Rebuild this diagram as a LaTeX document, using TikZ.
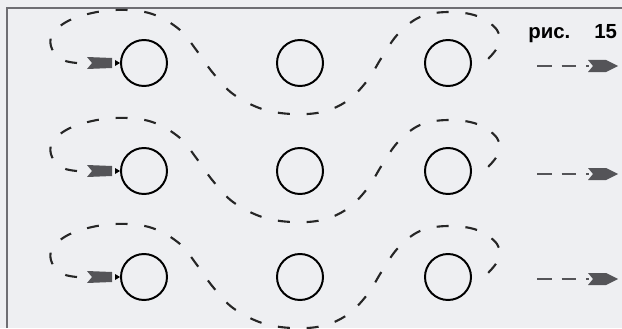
\documentclass[tikz,border=0pt]{standalone}
\usepackage{fontspec}
\setmainfont{Liberation Sans}
\definecolor{paper}{RGB}{238,239,242}
\definecolor{tailgray}{RGB}{84,84,88}
\definecolor{framegray}{RGB}{110,110,115}

\begin{document}
\begin{tikzpicture}[
    x=0.025cm, y=-0.025cm,
    ring/.style={circle, draw, line width=1.4pt, minimum size=1.15cm, inner sep=0pt},
    wave/.style={draw=black!85, line width=1.5pt, dash pattern=on 8.5pt off 12pt},
    outflow/.style={draw=tailgray, line width=2pt, dash pattern=on 10.5pt off 7pt, shorten >=0.725cm},
    feather/.style={fill=tailgray}
]
\useasboundingbox (0,0) rectangle (622,328);
\fill[paper] (0,0) rectangle (622,328);
\clip (0,0) rectangle (622,328);

% Frame (top and left edges)
\draw[framegray, line width=1.3pt] (7,328) -- (7,8) -- (622,8);

% Caption
\node[anchor=base west, inner sep=0pt, font=\bfseries\fontsize{14.5}{17}\selectfont] (cap) at (528,38) {рис.\hspace{0.6cm}15};

% Circles, row 1
\node[ring] (C1_1) at (144,63) {};
\node[ring] (C1_2) at (300,63) {};
\node[ring] (C1_3) at (448,63) {};

% Circles, row 2
\node[ring] (C2_1) at (144,171) {};
\node[ring] (C2_2) at (300,171) {};
\node[ring] (C2_3) at (448,171) {};

% Circles, row 3
\node[ring] (C3_1) at (144,277) {};
\node[ring] (C3_2) at (300,277) {};
\node[ring] (C3_3) at (448,277) {};

% Waves (over, under, over)
\draw[wave, shift={(0,63)}] plot[smooth, tension=0.6] coordinates {(77,0) (63,-3) (52,-14) (52,-28) (68,-42) (97,-51) (128,-53) (155,-48) (180,-33) (197,-12) (213,10) (233,31) (262,46) (292,51) (322,49) (347,38) (367,18) (382,-6) (398,-29) (420,-46) (448,-51) (477,-47) (497,-33) (498,-17) (487,-3)};
\draw[wave, shift={(0,171)}] plot[smooth, tension=0.6] coordinates {(77,0) (63,-3) (52,-14) (52,-28) (68,-42) (97,-51) (128,-53) (155,-48) (180,-33) (197,-12) (213,10) (233,31) (262,46) (292,51) (322,49) (347,38) (367,18) (382,-6) (398,-29) (420,-46) (448,-51) (477,-47) (497,-33) (498,-17) (487,-3)};
\draw[wave, shift={(0,277)}] plot[smooth, tension=0.6] coordinates {(77,0) (63,-3) (52,-14) (52,-28) (68,-42) (97,-51) (128,-53) (155,-48) (180,-33) (197,-12) (213,10) (233,31) (262,46) (292,51) (322,49) (347,38) (367,18) (382,-6) (398,-29) (420,-46) (448,-51) (477,-47) (497,-33) (498,-17) (487,-3)};

% Incoming arrows (left)
\coordinate (T1) at (87,63);
\coordinate (T2) at (87,171);
\coordinate (T3) at (87,277);
\fill[feather] (T1) ++(5,0) -- ++(-5,-6) -- ++(25,1) -- ++(0,10) -- ++(-25,1) -- cycle;
\fill[feather] (T2) ++(5,0) -- ++(-5,-6) -- ++(25,1) -- ++(0,10) -- ++(-25,1) -- cycle;
\fill[feather] (T3) ++(5,0) -- ++(-5,-6) -- ++(25,1) -- ++(0,10) -- ++(-25,1) -- cycle;
\fill (C1_1.west) -- ++(-5,-3) -- ++(0,6) -- cycle;
\fill (C2_1.west) -- ++(-5,-3) -- ++(0,6) -- cycle;
\fill (C3_1.west) -- ++(-5,-3) -- ++(0,6) -- cycle;

% Outgoing arrows (right)
\coordinate (D1) at (537,66);
\coordinate (D2) at (537,174);
\coordinate (D3) at (537,279);
\coordinate (E1) at (618,66);
\coordinate (E2) at (618,174);
\coordinate (E3) at (618,279);
\path[outflow] (D1) -- (E1);
\path[outflow] (D2) -- (E2);
\path[outflow] (D3) -- (E3);
\fill[feather] (E1) -- ++(-12,-6) -- ++(-18,0) -- ++(5,6) -- ++(-5,6) -- ++(18,0) -- cycle;
\fill[feather] (E2) -- ++(-12,-6) -- ++(-18,0) -- ++(5,6) -- ++(-5,6) -- ++(18,0) -- cycle;
\fill[feather] (E3) -- ++(-12,-6) -- ++(-18,0) -- ++(5,6) -- ++(-5,6) -- ++(18,0) -- cycle;

\end{tikzpicture}
\end{document}
